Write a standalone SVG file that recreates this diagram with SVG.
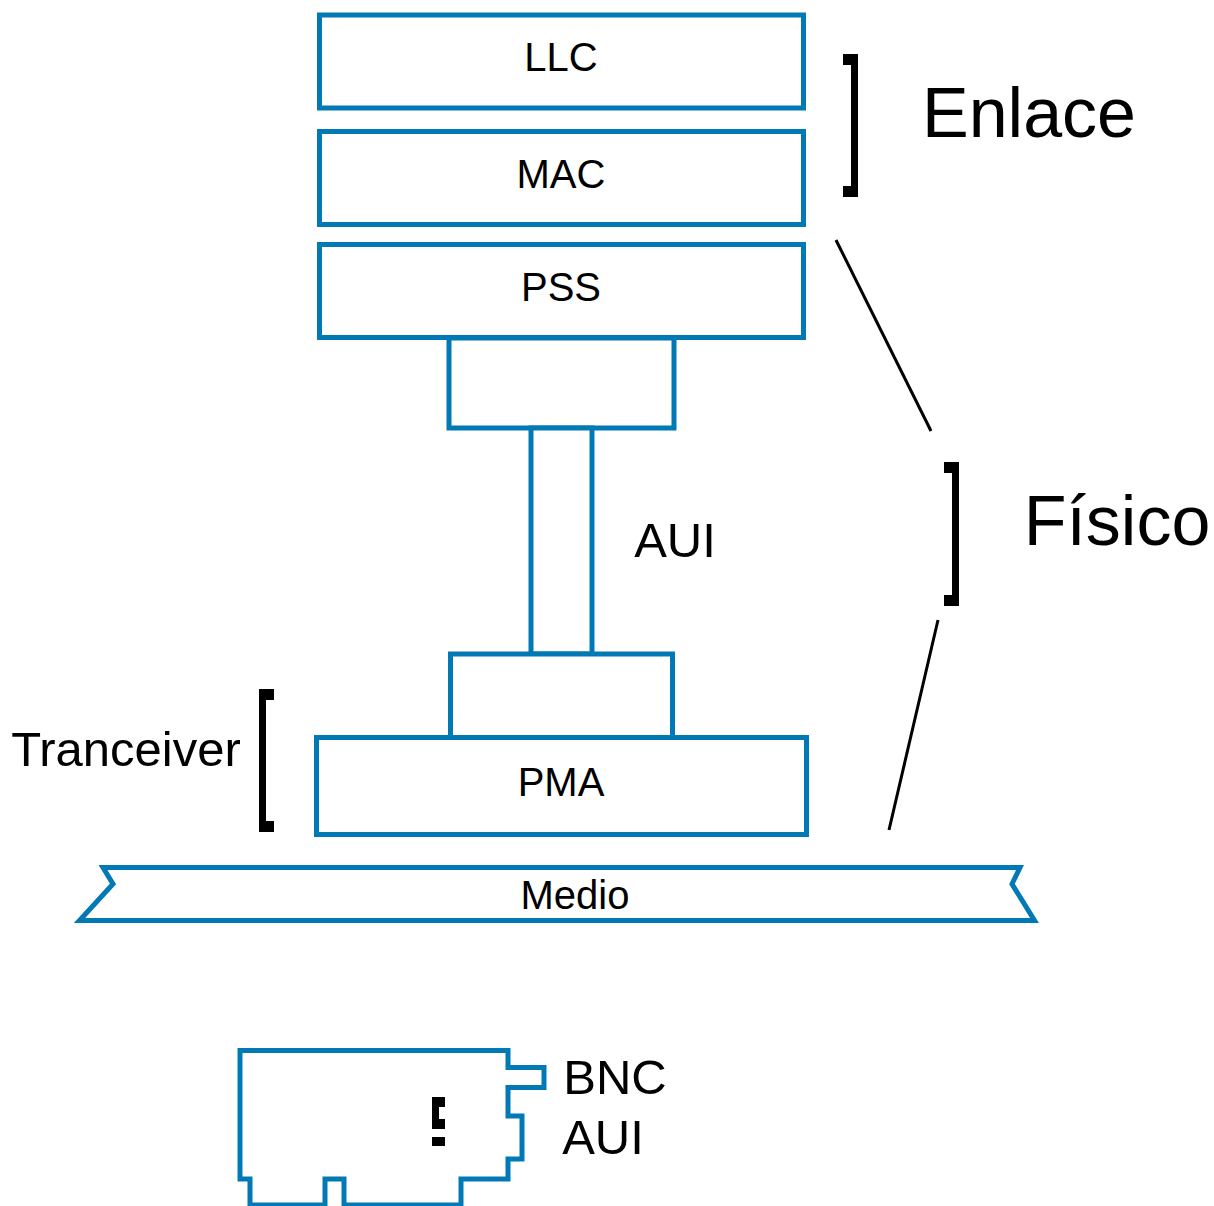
<svg xmlns="http://www.w3.org/2000/svg" width="1214" height="1206" viewBox="0 0 1214 1206">
<style>
.b{fill:#fff;stroke:#0179b5;stroke-width:5}
.k{fill:#000;stroke:none}
.l{fill:none;stroke:#000;stroke-width:3}
text{font-family:"Liberation Sans",Arial,sans-serif;fill:#000;text-anchor:middle}
.s{font-size:40px}.m{font-size:49px}.h{font-size:70px}
</style>
<rect width="1214" height="1206" fill="#fff"/>
<g id="conn"><path class="l" d="M836 240L931 431"/><path class="l" d="M938 620L889 830"/></g>
<g id="llc"><rect class="b" x="319.500" y="15" width="484" height="93"/><text class="s" x="561" y="71">LLC</text></g>
<g id="mac"><rect class="b" x="319.500" y="131.500" width="484" height="93"/><text class="s" x="561" y="188">MAC</text></g>
<g id="pss"><rect class="b" x="319.500" y="244.500" width="484" height="93"/><text class="s" x="561" y="301">PSS</text></g>
<g id="up"><rect class="b" x="449" y="338" width="225" height="90"/></g>
<g id="aui"><rect class="b" x="531" y="428" width="61" height="226"/><text class="m" x="675" y="557">AUI</text></g>
<g id="low"><rect class="b" x="450.500" y="654" width="222" height="84"/></g>
<g id="pma"><rect class="b" x="316.500" y="737.500" width="490" height="97"/><text class="s" x="561" y="796">PMA</text></g>
<g id="medio"><path class="b" d="M103 867.500H1020L1012 884L1034.500 920.500H79.500L113 884Z"/><text class="s" x="575" y="909">Medio</text></g>
<g id="enlace"><path class="k" d="M843 54H858V197H843V186H851V65H843Z"/><text class="h" x="1029" y="137">Enlace</text></g>
<g id="fisico"><path class="k" d="M944 462H959V606H944V595H952V473H944Z"/><text class="h" x="1117" y="545">Físico</text></g>
<g id="tranceiver"><path class="k" d="M274 689H259V832H274V821H266V700H274Z"/><text class="m" x="126" y="766">Tranceiver</text></g>
<g id="card"><path class="b" d="M240 1050.500H508V1067.500H544V1087.500H508V1116H522V1159H508V1179H461V1205H344V1179H325V1205H250V1179H240Z"/>
<path class="k" d="M432 1097H445V1107H439V1119H445V1129H432Z"/><rect class="k" x="432" y="1137" width="13" height="9"/>
<text class="m" x="615" y="1094">BNC</text><text class="m" x="603" y="1154">AUI</text></g>
</svg>
